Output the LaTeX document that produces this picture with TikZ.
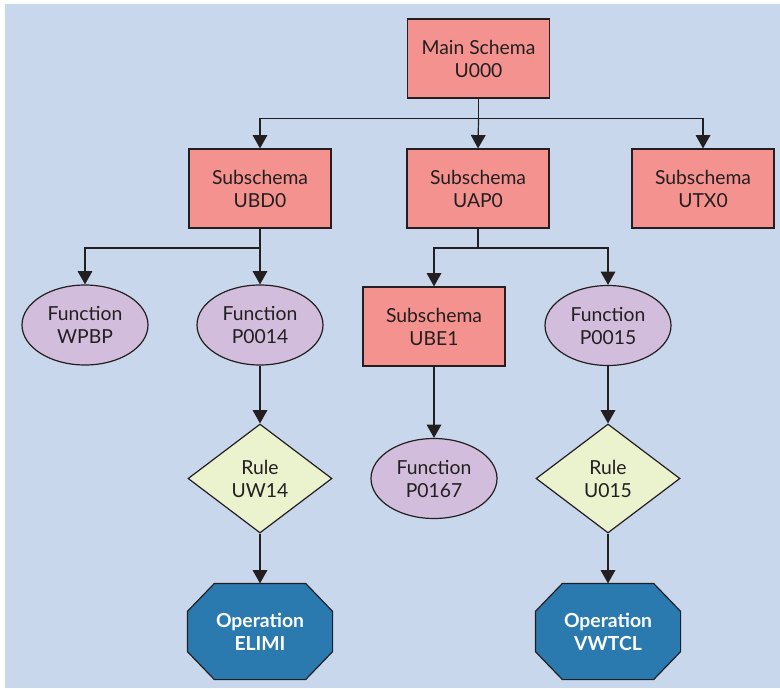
\documentclass[tikz,border=0pt]{standalone}
\usepackage{fontspec}
\setmainfont{Lato}
\usetikzlibrary{shapes.geometric,arrows.meta}
\definecolor{bgblue}{HTML}{C8D7EC}
\definecolor{schemafill}{HTML}{F4928F}
\definecolor{funcfill}{HTML}{D2BDDC}
\definecolor{rulefill}{HTML}{EAF2CE}
\definecolor{opfill}{HTML}{2A7AB0}
\definecolor{edge}{HTML}{231F20}
\tikzset{
  base/.style={draw=edge, line width=0.9pt, align=center, inner sep=0pt,
    font=\fontsize{14.5pt}{17.25pt}\selectfont, text=edge},
  schemabox/.style={base, rectangle, fill=schemafill,
    minimum width=106.5pt, minimum height=59.25pt},
  funcbox/.style={base, ellipse, fill=funcfill,
    minimum width=94.5pt, minimum height=60pt},
  rulebox/.style={base, diamond, fill=rulefill,
    minimum width=108pt, minimum height=81.75pt},
  % operation nodes: the box itself is invisible, the octagon is drawn round it
  opbox/.style={base, rectangle, draw=none, text=white,
    font=\fontsize{14.5pt}{17.25pt}\selectfont\bfseries,
    minimum width=108pt, minimum height=71.25pt},
  octoutline/.style={draw=edge, line width=0.9pt, fill=opfill},
  link/.style={draw=edge, line width=0.9pt,
    -{Triangle[length=10pt,width=11pt]}},
  wire/.style={draw=edge, line width=0.9pt}
}
% octagon with cut corners around a named node
\newcommand{\octround}[1]{%
  \path[octoutline]
    ([xshift=20.25pt]#1.north west) -- ([xshift=-20.25pt]#1.north east)
    -- ([yshift=-21pt]#1.north east) -- ([yshift=21pt]#1.south east)
    -- ([xshift=-20.25pt]#1.south east) -- ([xshift=20.25pt]#1.south west)
    -- ([yshift=21pt]#1.south west) -- ([yshift=-21pt]#1.north west) -- cycle;}
\begin{document}
\begin{tikzpicture}[x=0.75pt,y=-0.75pt]
  \useasboundingbox (0,0) rectangle (780,688);
  \fill[bgblue] (5,4) rectangle (780,688);

  % schema hierarchy
  \node[schemabox] (main) at (478.5,58.5) {Main Schema\\U000};
  \node[schemabox] (ubd) at (260,188.5) {Subschema\\UBD0};
  \node[schemabox] (uap) at (478,188.5) {Subschema\\UAP0};
  \node[schemabox] (utx) at (703,188.5) {Subschema\\UTX0};

  \node[funcbox] (wpbp) at (85,325) {Function\\WPBP};
  \node[funcbox] (p14) at (260,325) {Function\\P0014};
  \node[schemabox] (ube) at (434,326.5) {Subschema\\UBE1};
  \node[funcbox] (p15) at (608,325.5) {Function\\P0015};

  \node[rulebox] (uw14) at (260,478.5) {Rule\\UW14};
  \node[funcbox] (p167) at (434,478.5) {Function\\P0167};
  \node[rulebox] (u015) at (608,478.5) {Rule\\U015};

  % operations: outline first, then the text node on top
  \path (260,631.5) node[opbox] (elimi) {\phantom{Operation}};
  \path (608,631.5) node[opbox] (vwtcl) {\phantom{Operation}};
  \octround{elimi}
  \octround{vwtcl}
  \node[opbox] at (elimi.center) {Operation\\ELIMI};
  \node[opbox] at (vwtcl.center) {Operation\\VWTCL};

  % branch points
  \coordinate (jmain) at (478.5,118.5);
  \coordinate (jubd) at (260,248);
  \coordinate (juap) at (478,248);

  % connectors
  \draw[wire] (main.south) -- (jmain);
  \draw[link] (jmain) -| (ubd.north);
  \draw[link] (jmain) -- (uap.north);
  \draw[link] (jmain) -| (utx.north);

  \draw[wire] (ubd.south) -- (jubd);
  \draw[link] (jubd) -| (wpbp.north);
  \draw[link] (jubd) -- (p14.north);

  \draw[wire] (uap.south) -- (juap);
  \draw[link] (juap) -| (ube.north);
  \draw[link] (juap) -| (p15.north);

  \draw[link] (p14.south) -- (uw14.north);
  \draw[link] (ube.south) -- (p167.north);
  \draw[link] (p15.south) -- (u015.north);
  \draw[link] (uw14.south) -- (elimi.north);
  \draw[link] (u015.south) -- (vwtcl.north);
\end{tikzpicture}
\end{document}
